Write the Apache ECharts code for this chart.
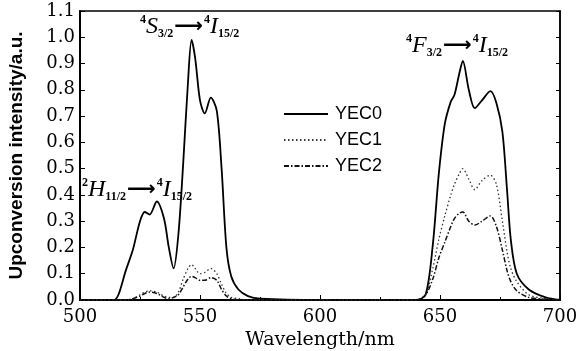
<!DOCTYPE html>
<html>
<head>
<meta charset="utf-8">
<script src="https://cdn.jsdelivr.net/npm/echarts@6/dist/echarts.min.js"></script>
<style>
	html, body { margin: 0; padding: 0; background: #fff; }
	#chart { width: 582px; height: 351px; }
</style>
</head>
<body>
<div id="chart"></div>
<script>
(function(){

	// wavelength grid (nm), shared by the three spectra
	var wavelengths = [500, 510, 514, 516, 519, 522, 525, 527, 529, 532, 535, 537, 539, 541, 543, 545, 546.5, 548, 550, 552, 554.5, 557, 559, 561, 563, 566, 570, 575, 600, 630, 640, 644, 647, 649.5, 652, 654.5, 656, 658, 659.5, 662, 664.5, 667.5, 671, 673.5, 676, 678, 679.5, 682, 687, 694, 700];

	var yec0 = [0, 0, 0, 0.02, 0.11, 0.19, 0.30, 0.335, 0.325, 0.375, 0.31, 0.20, 0.12, 0.25, 0.52, 0.83, 0.99, 0.92, 0.76, 0.71, 0.77, 0.72, 0.50, 0.20, 0.09, 0.04, 0.015, 0.005, 0, 0, 0, 0.02, 0.21, 0.48, 0.67, 0.755, 0.78, 0.86, 0.91, 0.80, 0.73, 0.76, 0.795, 0.75, 0.64, 0.41, 0.23, 0.10, 0.04, 0.01, 0];
	var yec1 = [0, 0, 0, 0, 0, 0.005, 0.02, 0.03, 0.035, 0.03, 0.015, 0.01, 0.01, 0.03, 0.08, 0.12, 0.135, 0.12, 0.10, 0.105, 0.12, 0.10, 0.06, 0.025, 0.01, 0.005, 0, 0, 0, 0, 0, 0.02, 0.12, 0.23, 0.32, 0.40, 0.44, 0.48, 0.50, 0.46, 0.42, 0.455, 0.475, 0.44, 0.30, 0.18, 0.12, 0.07, 0.02, 0.005, 0];
	var yec2 = [0, 0, 0, 0, 0, 0.005, 0.015, 0.025, 0.03, 0.025, 0.01, 0.005, 0.01, 0.02, 0.05, 0.08, 0.09, 0.085, 0.075, 0.075, 0.085, 0.075, 0.04, 0.015, 0.005, 0, 0, 0, 0, 0, 0, 0.02, 0.08, 0.16, 0.22, 0.28, 0.31, 0.33, 0.335, 0.30, 0.285, 0.30, 0.32, 0.28, 0.19, 0.11, 0.07, 0.035, 0.01, 0.003, 0];

	var seriesNames = ["YEC0", "YEC1", "YEC2"];
	var xTicks = [500, 550, 600, 650, 700];
	var yTicks = [0, 0.1, 0.2, 0.3, 0.4, 0.5, 0.6, 0.7, 0.8, 0.9, 1.0, 1.1];

	function pairs(values){
		return wavelengths.map(function(w, i){ return [w, values[i]]; });
	}

	var serif = "DejaVu Serif";
	var labelRich = {
		sup: { fontFamily: "Liberation Serif", fontSize: 12, verticalAlign: "top", lineHeight: 26, fontWeight: "bold" },
		it: { fontFamily: "Liberation Serif", fontSize: 24, fontStyle: "italic", lineHeight: 26 },
		sub: { fontFamily: "Liberation Serif", fontSize: 12, verticalAlign: "bottom", lineHeight: 26, fontWeight: "bold" },
		ar: { fontFamily: "DejaVu Sans", fontSize: 20, fontWeight: "bold", lineHeight: 26, padding: [0, 1, 0, 1] }
	};

	function note(left, top, text){
		return {
			type: "text",
			left: left,
			top: top,
			style: { text: text, rich: labelRich, fill: "#000" }
		};
	}

	var myChart = echarts.init(document.getElementById("chart"), null, { renderer: "canvas" });

	myChart.setOption({
		animation: false,
		backgroundColor: "#fff",
		grid: {
			left: 80, right: 22, top: 11, bottom: 51,
			outerBoundsMode: "none",
			containLabel: false,
			show: true, borderColor: "#000", borderWidth: 1.5
		},
		legend: {
			data: seriesNames,
			orient: "vertical",
			left: 278, top: 100,
			itemWidth: 44, itemHeight: 12, itemGap: 8,
			itemStyle: { opacity: 0 },
			textStyle: { fontFamily: "Liberation Sans", fontSize: 18, color: "#000", padding: [0, 0, 0, 2] }
		},
		xAxis: {
			type: "value",
			min: 500, max: 700, interval: 50,
			name: "Wavelength/nm",
			nameLocation: "middle",
			nameGap: 25,
			nameTextStyle: { fontFamily: serif, fontSize: 19, color: "#000" },
			axisLine: { lineStyle: { color: "#000", width: 2 } },
			axisTick: { inside: true, length: 5, lineStyle: { color: "#000" } },
			minorTick: { show: true, splitNumber: 2, length: 3, lineStyle: { color: "#000" } },
			axisLabel: {
				fontFamily: serif, fontSize: 18, color: "#000", margin: 8,
				formatter: function(v){ return xTicks.indexOf(v) >= 0 ? String(v) : ""; }
			},
			splitLine: { show: false }
		},
		yAxis: [{
			type: "value",
			min: 0, max: 1.1, interval: 0.1,
			name: "Upconversion intensity/a.u.",
			nameLocation: "middle",
			nameGap: 54,
			nameTextStyle: { fontFamily: "Liberation Sans", fontSize: 19, fontWeight: "bold", color: "#000" },
			axisLine: { lineStyle: { color: "#000", width: 2 } },
			axisTick: { inside: true, length: 5, lineStyle: { color: "#000" } },
			axisLabel: {
				fontFamily: serif, fontSize: 18, color: "#000", margin: 5,
				padding: [8, 0, 0, 0],
				formatter: function(v){
					var t = yTicks.filter(function(y){ return Math.abs(y - v) < 1e-6; });
					return t.length ? t[0].toFixed(1) : "";
				}
			},
			splitLine: { show: false }
		}, {
			type: "value",
			min: 0, max: 1.1, interval: 0.1,
			position: "right",
			axisLine: { show: true, lineStyle: { color: "#000", width: 1.5 } },
			axisTick: { inside: true, length: 4, lineStyle: { color: "#000" } },
			axisLabel: { show: false },
			splitLine: { show: false }
		}],
		series: [{
			name: seriesNames[0],
			type: "line",
			data: pairs(yec0),
			smooth: 0.3,
			symbol: "none",
			lineStyle: { color: "#000", width: 1.8, type: "solid" },
			itemStyle: { color: "#000" }
		}, {
			name: seriesNames[1],
			type: "line",
			data: pairs(yec1),
			smooth: 0.3,
			symbol: "none",
			lineStyle: { color: "#333", width: 1.3, type: [1.5, 2.5] },
			itemStyle: { color: "#333" }
		}, {
			name: seriesNames[2],
			type: "line",
			data: pairs(yec2),
			smooth: 0.3,
			symbol: "none",
			lineStyle: { color: "#111", width: 1.5, type: [5, 2, 1.5, 2] },
			itemStyle: { color: "#111" }
		}],
		graphic: [
			note(82, 177, "{sup|2}{it|H}{sub|11/2}{ar|⟶}{sup|4}{it|I}{sub|15/2}"),
			note(140, 14, "{sup|4}{it|S}{sub|3/2}{ar|⟶}{sup|4}{it|I}{sub|15/2}"),
			note(406, 33, "{sup|4}{it|F}{sub|3/2}{ar|⟶}{sup|4}{it|I}{sub|15/2}")
		]
	});

})();
</script>
</body>
</html>
